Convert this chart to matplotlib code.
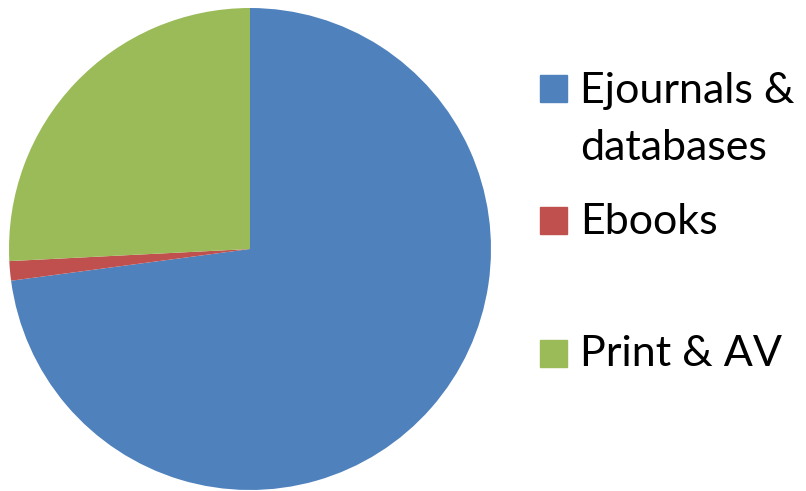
import matplotlib.pyplot as plt
from matplotlib.patches import Rectangle

labels = ['Ejournals &\ndatabases', 'Ebooks', 'Print & AV']
shares = [72.9, 1.3, 25.8]
colors = ['#4f81bd', '#c0504d', '#9bbb59']

W, H = 806, 491
fig = plt.figure(figsize=(W / 100, H / 100), dpi=100)

# pie centred at (250, 249) px, radius 241 px
ax = fig.add_axes([9 / W, 1 / H, 482 / W, 482 / H])
ax.pie(shares, colors=colors, startangle=90, counterclock=False,
       radius=1, wedgeprops=dict(linewidth=0))
ax.set_xlim(-1, 1)
ax.set_ylim(-1, 1)
ax.set_aspect('equal')
ax.axis('off')

# legend drawn by hand to match spacing
sq_centres = [88, 220, 353]
baselines = [103, 234, 366]
for lab, col, yc, yb in zip(labels, colors, sq_centres, baselines):
    fig.patches.append(Rectangle((540 / W, 1 - (yc + 13.5) / H), 27 / W, 27 / H,
                                 transform=fig.transFigure, color=col))
    for i, line in enumerate(lab.split('\n')):
        fig.text(580 / W, 1 - (yb + i * 57) / H, line, fontsize=31,
                 family='Lato', va='baseline', ha='left')

fig.savefig('out.png', dpi=100)
